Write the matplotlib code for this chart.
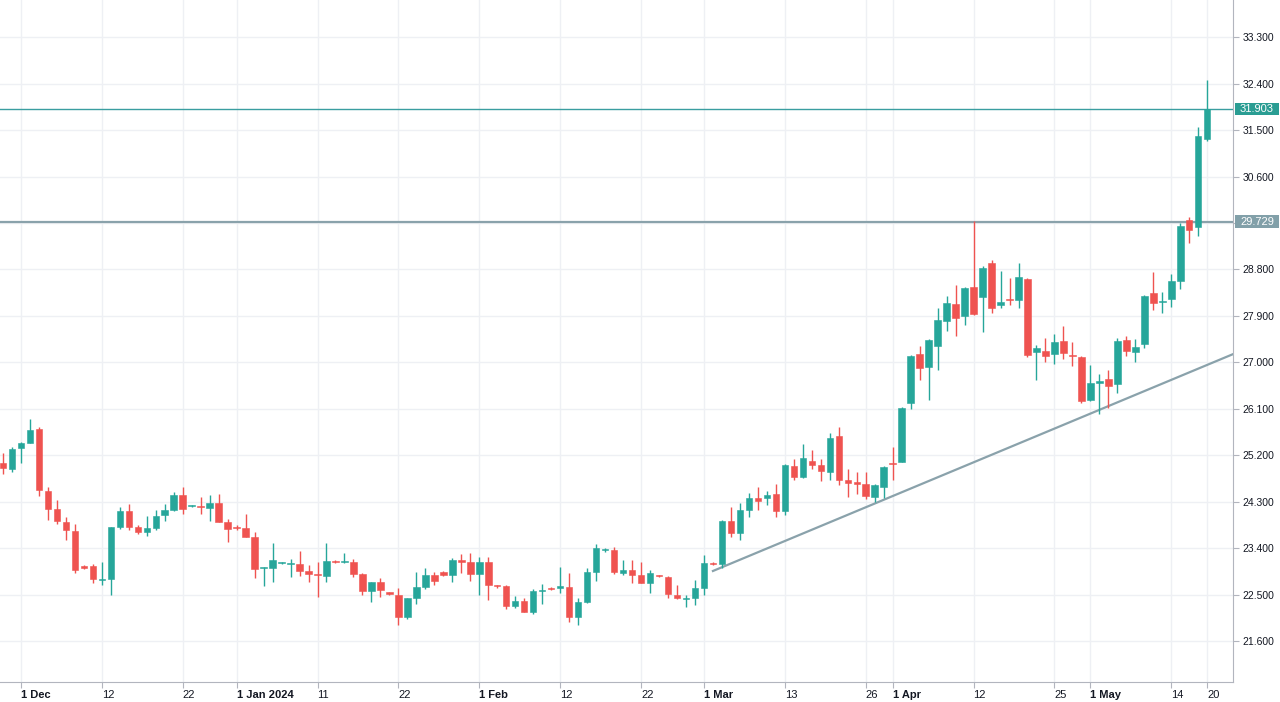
import matplotlib
matplotlib.use("Agg")
import matplotlib.pyplot as plt
from matplotlib.patches import Rectangle

# Datos diarios (velas)
apertura = [25.06, 24.94, 25.35, 25.44, 25.71, 24.51, 24.16, 23.91, 23.74, 23.05,
            23.05, 22.79, 22.80, 23.82, 24.12, 23.82, 23.71, 23.80, 24.04, 24.15,
            24.44, 24.21, 24.22, 24.18, 24.28, 23.90, 23.81, 23.79, 23.62, 23.01,
            23.01, 23.12, 23.09, 23.09, 22.96, 22.90, 22.86, 23.15, 23.13, 23.14,
            22.90, 22.58, 22.74, 22.55, 22.50, 22.06, 22.44, 22.65, 22.89, 22.94,
            22.89, 23.18, 23.13, 22.90, 23.13, 22.67, 22.67, 22.29, 22.38, 22.17,
            22.58, 22.63, 22.64, 22.65, 22.07, 22.36, 22.94, 23.36, 23.36, 22.93,
            22.97, 22.88, 22.73, 22.87, 22.85, 22.49, 22.42, 22.44, 22.64, 23.11,
            23.09, 23.93, 23.70, 24.15, 24.37, 24.38, 24.45, 24.13, 24.99, 24.79,
            25.09, 25.01, 24.88, 25.58, 24.72, 24.69, 24.64, 24.40, 24.59, 25.04,
            25.07, 26.21, 27.16, 26.92, 27.32, 27.81, 28.13, 27.89, 28.47, 28.27,
            28.92, 28.11, 28.22, 28.21, 28.62, 27.21, 27.22, 27.16, 27.42, 27.14,
            27.11, 26.27, 26.61, 26.67, 26.58, 27.43, 27.21, 27.36, 28.35, 28.17,
            28.22, 28.57, 29.75, 29.62, 31.33]
maximo = [25.24, 25.36, 25.46, 25.90, 25.75, 24.59, 24.33, 24.01, 23.87, 23.07,
          23.09, 23.14, 23.82, 24.19, 24.25, 23.85, 24.02, 24.14, 24.25, 24.49,
          24.59, 24.24, 24.40, 24.43, 24.46, 23.96, 23.85, 24.07, 23.71, 23.04,
          23.51, 23.14, 23.20, 23.35, 23.07, 23.14, 23.51, 23.17, 23.31, 23.20,
          22.93, 22.75, 22.83, 22.56, 22.64, 22.44, 22.94, 23.01, 22.94, 22.96,
          23.22, 23.29, 23.30, 23.23, 23.23, 22.69, 22.69, 22.47, 22.43, 22.62,
          22.71, 22.65, 23.04, 22.92, 22.43, 23.01, 23.48, 23.40, 23.43, 23.17,
          23.17, 23.14, 22.98, 22.88, 22.86, 22.69, 22.49, 22.78, 23.27, 23.13,
          23.95, 24.20, 24.27, 24.48, 24.59, 24.51, 24.64, 25.03, 25.13, 25.42,
          25.30, 25.13, 25.63, 25.75, 24.93, 24.87, 24.87, 24.64, 24.99, 25.37,
          26.14, 27.14, 27.32, 27.46, 28.06, 28.29, 28.50, 28.47, 29.73, 28.86,
          28.98, 28.77, 28.63, 28.93, 28.63, 27.34, 27.47, 27.55, 27.70, 27.40,
          27.12, 26.95, 26.78, 26.85, 27.47, 27.51, 27.45, 28.30, 28.75, 28.37,
          28.71, 29.70, 29.82, 31.56, 32.47]
minimo = [24.84, 24.88, 25.06, 25.43, 24.41, 23.95, 23.87, 23.56, 22.93, 23.00,
          22.72, 22.69, 22.49, 23.77, 23.75, 23.68, 23.64, 23.75, 23.93, 24.12,
          24.07, 24.19, 24.06, 23.93, 23.90, 23.53, 23.76, 23.61, 22.83, 22.67,
          22.74, 23.09, 22.84, 22.87, 22.75, 22.46, 22.75, 23.12, 23.11, 22.85,
          22.49, 22.36, 22.46, 22.49, 21.91, 22.03, 22.32, 22.61, 22.69, 22.87,
          22.75, 22.92, 22.77, 22.49, 22.40, 22.64, 22.22, 22.24, 22.16, 22.12,
          22.33, 22.60, 22.53, 21.98, 21.91, 22.34, 22.77, 23.33, 22.91, 22.89,
          22.72, 22.72, 22.54, 22.84, 22.43, 22.41, 22.27, 22.30, 22.49, 23.08,
          23.01, 23.62, 23.56, 24.01, 24.15, 24.24, 24.01, 24.04, 24.72, 24.77,
          24.93, 24.70, 24.73, 24.62, 24.39, 24.46, 24.35, 24.30, 24.37, 24.73,
          25.07, 26.09, 26.66, 26.27, 26.85, 27.60, 27.51, 27.72, 27.92, 27.58,
          27.95, 28.05, 28.11, 28.05, 27.10, 26.66, 27.01, 26.97, 27.07, 26.93,
          26.21, 26.25, 26.01, 26.11, 26.40, 27.12, 27.00, 27.27, 28.02, 27.95,
          28.07, 28.42, 29.31, 29.44, 31.28]
cierre = [24.96, 25.33, 25.43, 25.70, 24.53, 24.16, 23.93, 23.75, 22.98, 23.02,
          22.80, 22.80, 23.82, 24.12, 23.82, 23.71, 23.79, 24.02, 24.15, 24.44,
          24.16, 24.22, 24.19, 24.28, 23.91, 23.77, 23.80, 23.62, 22.99, 23.02,
          23.17, 23.12, 23.10, 22.96, 22.90, 22.88, 23.16, 23.14, 23.14, 22.90,
          22.58, 22.74, 22.59, 22.51, 22.07, 22.43, 22.65, 22.89, 22.77, 22.89,
          23.18, 23.14, 22.90, 23.13, 22.69, 22.66, 22.29, 22.38, 22.17, 22.58,
          22.59, 22.62, 22.67, 22.06, 22.35, 22.94, 23.40, 23.37, 22.94, 22.97,
          22.88, 22.73, 22.93, 22.86, 22.51, 22.43, 22.44, 22.63, 23.12, 23.09,
          23.93, 23.70, 24.14, 24.37, 24.31, 24.43, 24.13, 25.01, 24.79, 25.14,
          25.01, 24.90, 25.53, 24.73, 24.66, 24.64, 24.42, 24.62, 24.97, 25.03,
          26.11, 27.12, 26.89, 27.43, 27.82, 28.15, 27.87, 28.44, 27.94, 28.82,
          28.05, 28.18, 28.21, 28.65, 27.14, 27.27, 27.13, 27.40, 27.19, 27.12,
          26.26, 26.61, 26.64, 26.54, 27.42, 27.22, 27.29, 28.29, 28.16, 28.19,
          28.58, 29.65, 29.57, 31.39, 31.90]

# Etiquetas del eje de fechas (posicion = numero de vela)
fechas_pos = [2, 11, 20, 26, 35, 44, 53, 62, 71, 78, 87, 96, 99, 108, 117, 121, 130, 134]
fechas_txt = ["1 Dec", "12", "22", "1 Jan 2024", "11", "22", "1 Feb", "12", "22",
              "1 Mar", "13", "26", "1 Apr", "12", "25", "1 May", "14", "20"]
meses = ["1 Dec", "1 Jan 2024", "1 Feb", "1 Mar", "1 Apr", "1 May"]

precios_eje = [21.6, 22.5, 23.4, 24.3, 25.2, 26.1, 27.0, 27.9, 28.8, 29.7,
               30.6, 31.5, 32.4, 33.3]

# Niveles horizontales y linea de tendencia
nivel_alto = 31.903
nivel_bajo = 29.729
tendencia_x = [79, 137]
tendencia_y = [22.96, 27.17]

VERDE = "#26a69a"
ROJO = "#ef5350"


def etiqueta_precio(ax, valor, color):
    alto = 0.24
    caja = Rectangle((1.0016, valor - alto / 2), 0.0357, alto, transform=ax.get_yaxis_transform(),
                     facecolor=color, edgecolor="none", clip_on=False, zorder=6)
    ax.add_patch(caja)
    ax.text(1.0016 + 0.0357 / 2, valor, f"{valor:.3f}", transform=ax.get_yaxis_transform(),
            ha="center", va="center", color="white", fontsize=8, clip_on=False, zorder=7)


def grafica_velas():
    plt.rcParams["font.family"] = ["Liberation Sans", "DejaVu Sans"]
    fig = plt.figure(figsize=(12.8, 7.02), dpi=100)
    ax = fig.add_axes([0, 0.0285, 0.9633, 0.9715])

    x = list(range(len(apertura)))
    colores = [VERDE if c >= o else ROJO for o, c in zip(apertura, cierre)]
    bases = [min(o, c) for o, c in zip(apertura, cierre)]
    alturas = [max(abs(c - o), 0.02) for o, c in zip(apertura, cierre)]

    ax.vlines(x, minimo, maximo, colors=colores, linewidth=1, zorder=3)
    ax.bar(x, alturas, bottom=bases, width=0.72, color=colores, edgecolor=colores,
           linewidth=0.4, zorder=4)

    # niveles
    ax.axhline(nivel_alto, color="#3a9ea0", linewidth=1, zorder=2)
    ax.axhline(nivel_bajo, color="#8aa2ab", linewidth=1.6, zorder=2)
    ax.plot(tendencia_x, tendencia_y, color="#8aa2ab", linewidth=1.6, zorder=2)

    ax.set_xlim(-0.33, 136.87)
    ax.set_ylim(20.81, 34.02)

    # la etiqueta 29.700 queda tapada por la caja del nivel, igual que en el original
    ax.set_yticks(precios_eje)
    ax.set_yticklabels(["" if abs(p - nivel_bajo) < 0.2 else f"{p:.3f}" for p in precios_eje])
    ax.yaxis.tick_right()
    ax.set_xticks(fechas_pos)
    ax.set_xticklabels(fechas_txt, ha="left")
    for t in ax.get_xticklabels():
        if t.get_text() in meses:
            t.set_fontweight("bold")

    ax.tick_params(axis="y", right=True, left=False, length=4, color="#b2b5be",
                   labelsize=7.5, labelcolor="#131722", pad=3)
    ax.tick_params(axis="x", length=4, color="#b2b5be", labelsize=8,
                   labelcolor="#131722", pad=2)
    ax.grid(True, color="#eef0f4", linewidth=1, zorder=0)
    ax.set_axisbelow(True)

    for lado in ["top", "left"]:
        ax.spines[lado].set_visible(False)
    for lado in ["bottom", "right"]:
        ax.spines[lado].set_color("#b2b5be")

    etiqueta_precio(ax, nivel_alto, "#2a9d93")
    etiqueta_precio(ax, nivel_bajo, "#82a0a9")

    fig.savefig("out.png", dpi=100)


if __name__ == "__main__":
    grafica_velas()
